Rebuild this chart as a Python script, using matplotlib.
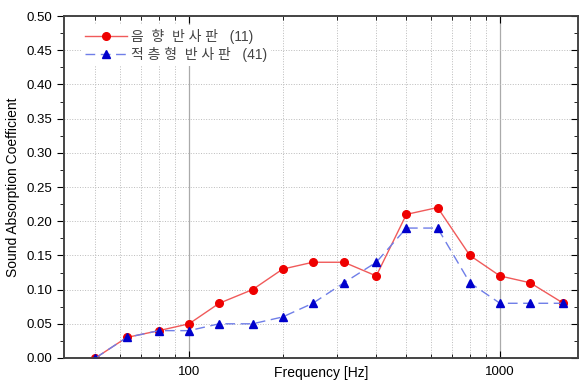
import numpy as np
import matplotlib.pyplot as plt
from matplotlib.ticker import FixedLocator, NullFormatter, MultipleLocator, FormatStrFormatter

plt.rcParams['font.family'] = ['Liberation Sans', 'Noto Sans CJK KR', 'DejaVu Sans']

freq = [50, 63, 80, 100, 125, 160, 200, 250, 315, 400, 500, 630, 800, 1000, 1250, 1600]
reflector = [0.00, 0.03, 0.04, 0.05, 0.08, 0.10, 0.13, 0.14, 0.14, 0.12,
             0.21, 0.22, 0.15, 0.12, 0.11, 0.08]
laminated = [0.00, 0.03, 0.04, 0.04, 0.05, 0.05, 0.06, 0.08, 0.11, 0.14,
             0.19, 0.19, 0.11, 0.08, 0.08, 0.08]
label1 = '음  향  반 사 판   (11)'
label2 = '적 층 형  반 사 판   (41)'

fig = plt.figure(figsize=(5.79, 3.83), dpi=100)
ax = fig.add_axes([0.1105, 0.0653, 0.8875, 0.8927])

ax.plot(freq, reflector, color='#f05a5a', lw=1.0, marker='o', ms=5.5,
        mfc='#ee0000', mec='#ee0000', label=label1, zorder=3)
ax.plot(freq, laminated, color='#6f7ee8', lw=1.0, ls=(0, (7, 4)), marker='^', ms=6,
        mfc='#0000cc', mec='#0000cc', label=label2, zorder=4)

ax.set_xscale('log')
ax.set_xlim(39.6, 1780)
ax.set_ylim(0, 0.5)

ax.xaxis.set_major_locator(FixedLocator([100, 1000]))
ax.xaxis.set_major_formatter(FormatStrFormatter('%d'))
minors = [50, 60, 70, 80, 90, 200, 300, 400, 500, 600, 700, 800, 900]
ax.xaxis.set_minor_locator(FixedLocator(minors))
ax.xaxis.set_minor_formatter(NullFormatter())
ax.yaxis.set_major_locator(MultipleLocator(0.05))
ax.yaxis.set_minor_locator(MultipleLocator(0.025))
ax.yaxis.set_major_formatter(FormatStrFormatter('%.2f'))

ax.tick_params(axis='x', which='both', direction='in', top=True, labelsize=9.5, pad=6)
ax.tick_params(axis='x', which='major', length=5)
ax.tick_params(axis='x', which='minor', length=3)
ax.tick_params(axis='y', which='both', direction='out', labelsize=9.5)
ax.tick_params(axis='y', which='major', length=5)
ax.tick_params(axis='y', which='minor', length=3)

# right-side inward ticks
ax2 = ax.twinx()
ax2.set_ylim(0, 0.5)
ax2.yaxis.set_major_locator(MultipleLocator(0.05))
ax2.yaxis.set_minor_locator(MultipleLocator(0.025))
ax2.tick_params(axis='y', which='both', direction='in', labelright=False)
ax2.tick_params(axis='y', which='major', length=5)
ax2.tick_params(axis='y', which='minor', length=3)

for a in (ax, ax2):
    for s in a.spines.values():
        s.set_color('#444444')
        s.set_linewidth(1.2)

ax.grid(True, which='major', axis='x', color='#aaaaaa', lw=0.9, ls='-')
ax.grid(True, which='minor', axis='x', color='#bbbbbb', lw=0.7, ls=':')
ax.grid(True, which='major', axis='y', color='#bbbbbb', lw=0.7, ls=':')
ax.set_axisbelow(True)

ax.set_xlabel('Frequency [Hz]', fontsize=10, va='center')
ax.xaxis.set_label_coords(0.5, -0.044)
ax.set_ylabel('Sound Absorption Coefficient', fontsize=10)
ax.yaxis.set_label_coords(-0.085, 0.5)

leg = ax.legend(loc='upper left', bbox_to_anchor=(0.02, 0.995), frameon=True,
                fontsize=10, handlelength=3.0, handletextpad=0.3,
                borderpad=0.3, labelspacing=0.2, fancybox=False)
leg.get_frame().set_edgecolor('none')
leg.get_frame().set_facecolor('white')
leg.get_frame().set_alpha(1)
leg.set_zorder(10)
for t in leg.get_texts():
    t.set_color('#444444')

fig.savefig('out.png', dpi=100)
